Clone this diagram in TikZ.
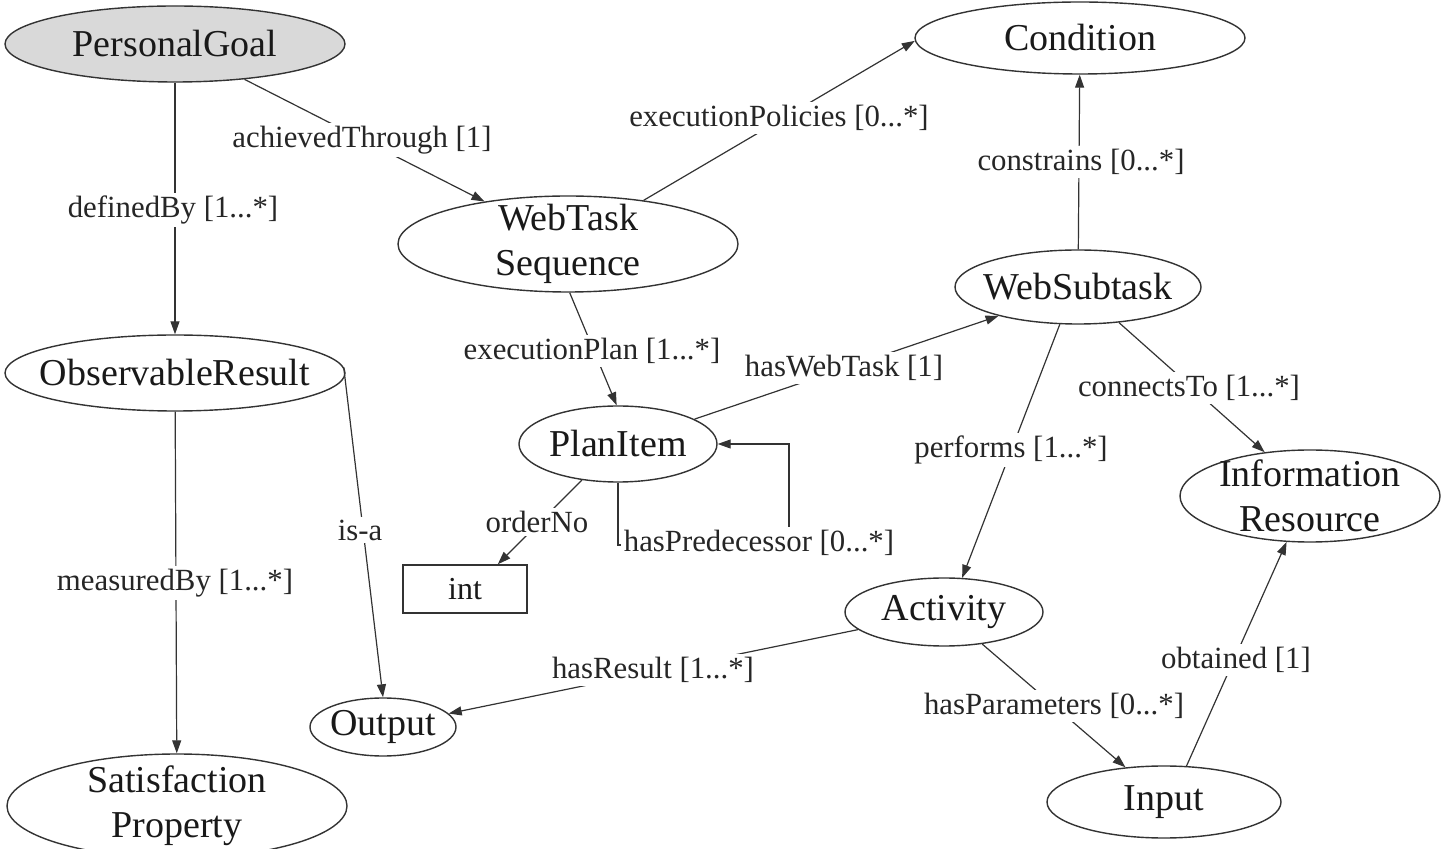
\documentclass[tikz,border=0pt]{standalone}
\usepackage{fontspec}
\setmainfont{Liberation Serif}
\usetikzlibrary{shapes.geometric,arrows.meta}
\begin{document}
\begin{tikzpicture}[x=0.5pt,y=-0.5pt,
  cls/.style={ellipse,draw=black!80,line width=0.7pt,inner sep=0pt},
  ctext/.style={inner sep=0pt,font=\fontsize{19}{22.5}\selectfont,align=center,text=black!90},
  dtype/.style={rectangle,draw=black!80,line width=0.7pt,inner sep=0pt,
    font=\fontsize{16}{19}\selectfont,text=black!90},
  lbl/.style={fill=white,inner sep=1.5pt,font=\fontsize{15.4}{18}\selectfont,text=black!85},
  rel/.style={draw=black!80,line width=0.6pt},
  to/.style={rel,-{Triangle[length=6.5pt,width=4.5pt]}}
]
\useasboundingbox (0,0) rectangle (1441,849);

% classes: the ellipse keeps its given size, the name is set as a centred label
\node[cls,fill=black!15,minimum width=170pt,minimum height=38pt,
  label={[ctext]center:PersonalGoal}] (pg) at (175,44) {};
\node[cls,minimum width=165pt,minimum height=36pt,
  label={[ctext]center:Condition}] (cond) at (1080,38) {};
\node[cls,minimum width=170pt,minimum height=48pt,
  label={[ctext]center:WebTask\\Sequence}] (wts) at (568,244) {};
\node[cls,minimum width=123pt,minimum height=37pt,
  label={[ctext]center:WebSubtask}] (wsub) at (1078,287) {};
\node[cls,minimum width=170pt,minimum height=38pt,
  label={[ctext]center:ObservableResult}] (obs) at (175,373) {};
\node[cls,minimum width=99pt,minimum height=38pt,
  label={[ctext]center:PlanItem}] (pi) at (618,444) {};
\node[dtype,minimum width=62pt,minimum height=24pt] (int) at (465,589) {int};
\node[cls,minimum width=130pt,minimum height=46pt,
  label={[ctext]center:Information\\Resource}] (inf) at (1310,496) {};
\node[cls,minimum width=99pt,minimum height=34pt,
  label={[ctext]center:Activity}] (act) at (944,612) {};
\node[cls,minimum width=73pt,minimum height=29pt,
  label={[ctext]center:Output}] (out) at (383,727) {};
\node[cls,minimum width=170pt,minimum height=52pt,
  label={[ctext]center:Satisfaction\\Property}] (sat) at (177,806) {};
\node[cls,minimum width=117pt,minimum height=36pt,
  label={[ctext]center:Input}] (inp) at (1164,802) {};

% relations
\draw[to] (pg) -- (obs);
\draw[to] (pg) -- (wts);
\draw[to] (wts.30) -- (cond.181);
\draw[to] (wsub) -- (cond);
\draw[to] (wts.-88) -- (pi.92);
\draw[to] (pi.18) -- (wsub.200);
\draw[to] (pi.225) -- (int.37);
\coordinate (loop) at (789,545);
\draw[to] (pi.south) |- (loop) |- (pi.east);
\draw[to] (obs.2) -- (out.north);
\draw[to] (obs) -- (sat);
\draw[to] (act) -- (out);
\draw[to] (wsub.244) -- (act.62);
\draw[to] (wsub.-41) -- (inf.136);
\draw[to] (act.-40) -- (inp.138);
\draw[to] (inp.58) -- (inf.243);

% relation names
\node[lbl] (l-ach) at (362,140) {achievedThrough [1]};
\node[lbl] (l-def) at (173,210) {definedBy [1...*]};
\node[lbl] (l-pol) at (779,118) {executionPolicies [0...*]};
\node[lbl] (l-con) at (1081,162) {constrains [0...*]};
\node[lbl] (l-plan) at (592,351) {executionPlan [1...*]};
\node[lbl] (l-web) at (844,368) {hasWebTask [1]};
\node[lbl] (l-ord) at (537,522) {orderNo};
\node[lbl] (l-pre) at (759,543) {hasPredecessor [0...*]};
\node[lbl] (l-isa) at (360,530) {is-a};
\node[lbl] (l-mea) at (175,583) {measuredBy [1...*]};
\node[lbl] (l-res) at (653,670) {hasResult [1...*]};
\node[lbl] (l-per) at (1011,450) {performs [1...*]};
\node[lbl] (l-ct) at (1189,388) {connectsTo [1...*]};
\node[lbl] (l-par) at (1054,706) {hasParameters [0...*]};
\node[lbl] (l-obt) at (1236,660) {obtained [1]};
\end{tikzpicture}
\end{document}
